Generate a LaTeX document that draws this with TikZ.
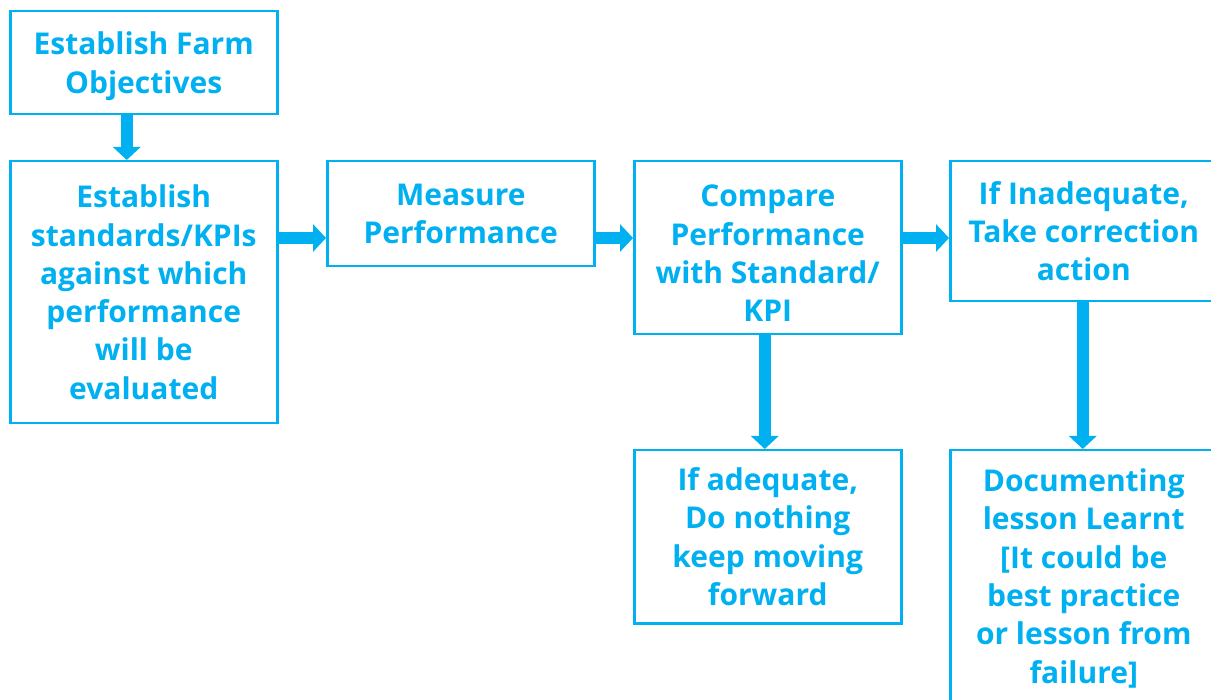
\documentclass[tikz,border=0pt]{standalone}
\usepackage{fontspec}
\setmainfont{Open Sans}
\usetikzlibrary{positioning,arrows.meta}

\definecolor{kpiblue}{HTML}{00B0F0}

\tikzset{
  stage/.style={draw=kpiblue, line width=2.5pt, text=kpiblue,
    font=\bfseries\fontsize{30}{38.3}\selectfont, align=center,
    minimum width=267pt, inner sep=0pt, anchor=north west},
  flow/.style={kpiblue, line width=12pt, -{Triangle[length=13pt,width=27pt]}}
}
% extra room above the first line
\newcommand{\topgap}[1]{\rule{0pt}{#1}}

\begin{document}
\begin{tikzpicture}[x=1pt, y=-1pt]
    \useasboundingbox (0,0) rectangle (1211,700);
    \clip (0,0) rectangle (1211,700);

    % boxes
    \node[stage, minimum height=103pt] (objectives) at (9,10) {\topgap{30pt}Establish Farm\\Objectives};
    \node[stage, minimum height=262pt] (standards) at (9,160) {Establish\\standards/KPIs\\against which\\performance\\will be\\evaluated};
    \node[stage, minimum height=105pt] (measure) at (326,160) {Measure\\Performance};
    \node[stage, minimum height=173pt] (compare) at (633,160) {\topgap{33pt}Compare\\Performance\\with Standard/\\KPI};
    \node[stage, minimum height=140pt] (inadequate) at (949,160) {If Inadequate,\\Take correction\\action};
    \node[stage, minimum height=173pt] (adequate) at (633,449) {If adequate,\\Do nothing\\keep moving\\forward};
    \node[stage, minimum height=256pt] (lessons) at (949,449) {Documenting\\lesson Learnt\\{[It could be}\\best practice\\or lesson from\\failure]};

    % arrows
    \coordinate (row) at (0,238);
    \draw[flow] ([xshift=-17pt]objectives.south) -- ([xshift=-17pt]standards.north);
    \draw[flow] (standards.east |- row) -- (measure.west |- row);
    \draw[flow] (measure.east |- row) -- (compare.west |- row);
    \draw[flow] (compare.east |- row) -- (inadequate.west |- row);
    \draw[flow] ([xshift=-3pt]compare.south) -- ([xshift=-3pt]adequate.north);
    \draw[flow] ([xshift=-1pt]inadequate.south) -- ([xshift=-1pt]lessons.north);
\end{tikzpicture}
\end{document}
